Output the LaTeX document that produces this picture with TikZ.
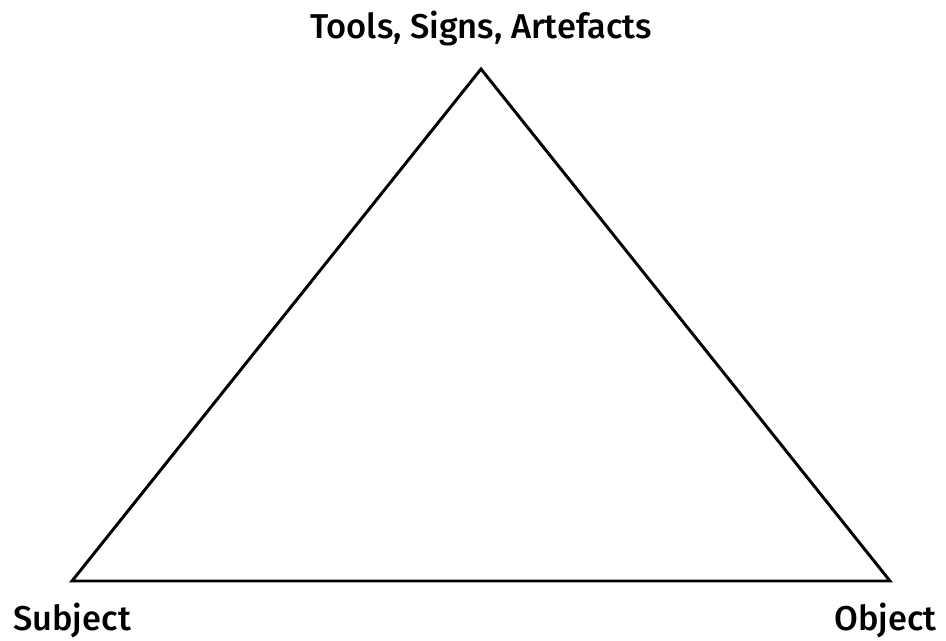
\documentclass[tikz,border=0pt]{standalone}
\usepackage{fontspec}
\setmainfont{Fira Sans Medium}
\usetikzlibrary{positioning,calc}

\begin{document}
\begin{tikzpicture}[
    x=0.025cm, y=-0.025cm,
    corner/.style={inner sep=0pt, font=\fontsize{24.5}{29}\selectfont},
    side/.style={line width=2.1pt, line join=miter}
]
    \useasboundingbox (0,0) rectangle (946,640);

    \coordinate (apex) at (481,69);
    \coordinate (left) at (72,581);
    \coordinate (right) at (890,581);

    \node [corner, anchor=base] (tools) at (481,38) {Tools, Signs, Artefacts};
    \node [corner, anchor=base west] (subject) at (13,630) {Subject};
    \node [corner, anchor=base east] (object) at (937,630) {Object};

    \draw [side] (left) -- (apex) -- (right) -- cycle;
\end{tikzpicture}
\end{document}
